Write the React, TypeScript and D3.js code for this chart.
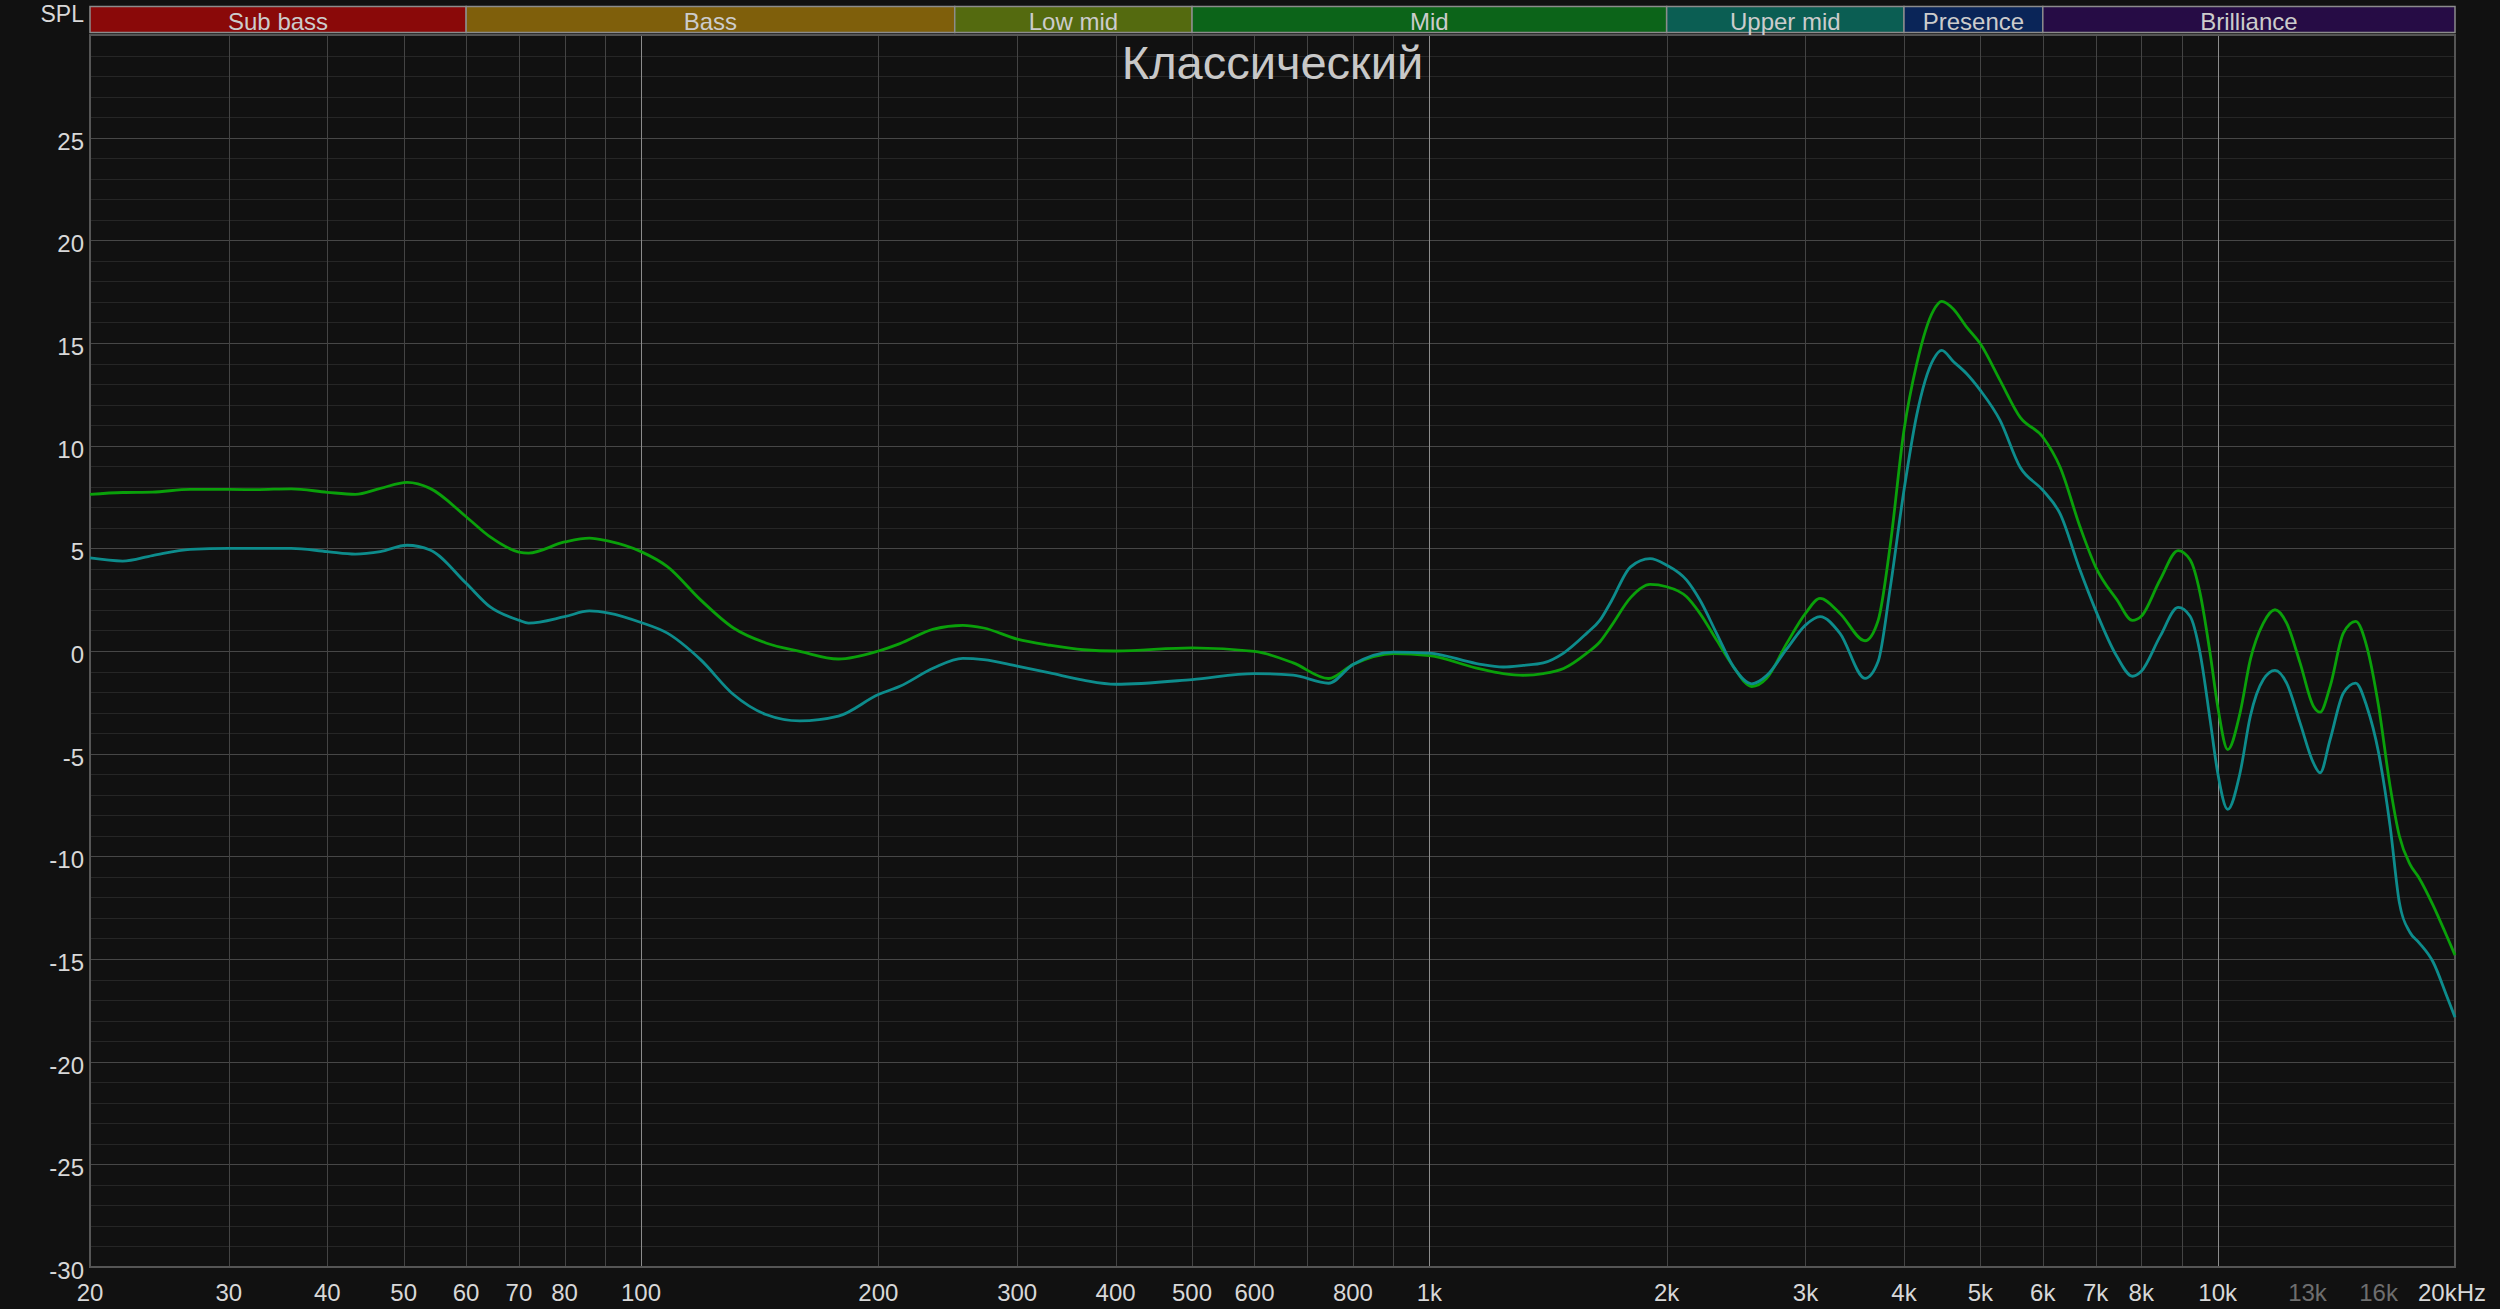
import * as d3 from 'd3';
import {useEffect, useRef} from 'react';

// frequency response, dB SPL
const freqs = [
    20, 22, 24, 26.8, 30, 32.5, 36, 40, 43.4, 46.7, 50.5, 54, 60, 64.3, 70, 72, 80, 86, 91,
    100, 108, 119, 131, 144, 159, 178, 200, 213, 235, 256, 272, 300, 330, 364, 400, 500, 600, 672, 745, 800, 900,
    1000, 1148, 1241, 1316, 1395, 1480, 1584, 1646, 1700, 1800, 1905, 2000, 2120, 2204, 2314, 2430, 2564, 2678,
    2840, 3000, 3130, 3318, 3570, 3710, 3840, 4000, 4152, 4359, 4466, 4620, 4804, 5000, 5296, 5614, 6000, 6310,
    6689, 7000, 7448, 7796, 8000, 8452, 8908, 9226, 9498, 9780, 10000, 10298, 10676, 11000, 11426, 11822, 12232,
    12720, 13226, 13488, 13888, 14438, 14964, 15454, 16000, 16546, 17000, 17538, 18000, 18774, 19518, 20000,
];

const greenDb = [
    7.63, 7.72, 7.74, 7.87, 7.87, 7.86, 7.9, 7.73, 7.63, 7.92, 8.21, 7.92, 6.54, 5.57, 4.82, 4.77, 5.31, 5.5, 5.35,
    4.84, 4.11, 2.49, 1.12, 0.39, -0.02, -0.39, 0, 0.36, 1.07, 1.25, 1.12, 0.58, 0.28, 0.06, 0, 0.15, -0.02, -0.58, -1.34, -0.66, -0.13,
    -0.23, -0.83, -1.1, -1.18, -1.1, -0.85, -0.1, 0.45, 1.2, 2.6, 3.24, 3.13, 2.64, 1.83, 0.53, -0.76, -1.73, -1.33,
    0.37, 1.83, 2.56, 1.83, 0.5, 1.5, 5.07, 10.75, 13.99, 16.58, 17.03, 16.66, 15.77, 14.96, 13.18, 11.39, 10.42, 8.96,
    6.05, 4.1, 2.5, 1.49, 1.69, 3.47, 4.89, 4.44, 2.82, -0.1, -2.69, -4.8, -3.01, -0.42, 1.36, 2.01, 1.36,
    -0.58, -2.69, -2.98, -1.72, 0.88, 1.44, 0.23, -2.69, -6.58, -9.01, -10.39, -11.04, -12.41, -13.87, -14.81,
];

const tealDb = [
    4.53, 4.38, 4.65, 4.95, 5.0, 5.0, 5.0, 4.84, 4.72, 4.84, 5.15, 4.92, 3.3, 2.16, 1.5, 1.36, 1.67, 1.95, 1.85,
    1.39, 0.87, -0.42, -2.12, -3.09, -3.4, -3.17, -2.12, -1.72, -0.83, -0.36, -0.42, -0.74, -1.07, -1.42, -1.62, -1.39, -1.1, -1.18, -1.57, -0.66, -0.05,
    -0.1, -0.61, -0.78, -0.7, -0.58, -0.1, 0.87, 1.5, 2.4, 4.1, 4.5, 4.18, 3.45, 2.48, 0.86, -0.76, -1.6, -1.2,
    0.1, 1.26, 1.67, 0.86, -1.33, -0.5, 3.0, 7.83, 11.5, 14.2, 14.64, 14.1, 13.5, 12.69, 11.23, 8.96, 7.83, 6.69,
    3.94, 1.99, -0.26, -1.23, -0.99, 0.71, 2.12, 1.69, -0.1, -3.34, -5.93, -7.71, -5.93, -3.18, -1.39, -0.94, -1.56,
    -3.5, -5.45, -5.93, -4.31, -2.04, -1.56, -2.69, -4.96, -8.53, -12.25, -13.71, -14.2, -15.17, -16.79, -17.84,
];

const bandNames = ['Sub bass', 'Bass', 'Low mid', 'Mid', 'Upper mid', 'Presence', 'Brilliance'];
const bandEdges = [20, 60, 250, 500, 2000, 4000, 6000, 20000];
const bandColors = ['#8a0909', '#7f5f0b', '#546a0f', '#0c6419', '#0b5e53', '#0a2558', '#260c45'];

const xTickValues = [20, 30, 40, 50, 60, 70, 80, 100, 200, 300, 400, 500, 600, 800, 1000, 2000, 3000, 4000, 5000, 6000, 7000, 8000, 10000, 13000, 16000, 20000];
const xTickLabels = ['20', '30', '40', '50', '60', '70', '80', '100', '200', '300', '400', '500', '600', '800', '1k', '2k', '3k', '4k', '5k', '6k', '7k', '8k', '10k', '13k', '16k', '20kHz'];
const dimTicks = [13000, 16000];
const yTickValues = [-30, -25, -20, -15, -10, -5, 0, 5, 10, 15, 20, 25];

const title = 'Классический';
const yLabel = 'SPL';

const FONT = "'Liberation Sans', Arial, sans-serif";

export default function App() {
    const ref = useRef(null);
    const width = 2500;
    const height = 1309;

    const margins = {top: 35, right: 45, bottom: 42, left: 90};
    const innerRight = width - margins.right;
    const innerBottom = height - margins.bottom;

    useEffect(() => {
        document.body.style.margin = '0';
        document.body.style.background = '#111111';

        const svg = d3.select(ref.current);
        svg.selectAll('*').remove();

        svg.append('rect').attr('width', width).attr('height', height).attr('fill', '#111111');

        const xScale = d3.scaleLog().domain([20, 20000]).range([margins.left, innerRight]);
        const yScale = d3.scaleLinear().domain([-30, 30]).range([innerBottom, margins.top]);

        // horizontal grid, 1 dB minor / 5 dB major
        const grid = svg.append('g').attr('shape-rendering', 'crispEdges');
        const dbLines = d3.range(-29, 30);
        grid.selectAll('.hgrid')
            .data(dbLines)
            .join('line')
            .attr('x1', margins.left)
            .attr('x2', innerRight)
            .attr('y1', (d) => Math.round(yScale(d)) + 0.5)
            .attr('y2', (d) => Math.round(yScale(d)) + 0.5)
            .attr('stroke', (d) => (d % 5 === 0 ? '#474747' : '#262626'))
            .attr('stroke-width', (d) => (d % 5 === 0 ? 1.5 : 1));

        // vertical grid
        const fLines = xScale.ticks().filter((f) => f > 20 && f < 20000);
        grid.selectAll('.vgrid')
            .data(fLines)
            .join('line')
            .attr('x1', (d) => Math.round(xScale(d)) + 0.5)
            .attr('x2', (d) => Math.round(xScale(d)) + 0.5)
            .attr('y1', margins.top)
            .attr('y2', innerBottom)
            .attr('stroke', (d) => {
                if (d === 100 || d === 1000 || d === 10000) return '#8c8c8c';
                if (d > 10000) return '#303030';
                return '#444444';
            })
            .attr('stroke-width', 1.2);

        // plot frame
        svg.append('rect')
            .attr('x', margins.left)
            .attr('y', margins.top)
            .attr('width', innerRight - margins.left)
            .attr('height', innerBottom - margins.top)
            .attr('fill', 'none')
            .attr('stroke', '#555555')
            .attr('stroke-width', 2);

        // band header
        const bands = bandNames.map((name, i) => ({name, f0: bandEdges[i], f1: bandEdges[i + 1], color: bandColors[i]}));
        const bandG = svg.append('g');
        bandG.selectAll('rect')
            .data(bands)
            .join('rect')
            .attr('x', (d) => xScale(d.f0))
            .attr('y', 6.5)
            .attr('width', (d) => xScale(d.f1) - xScale(d.f0))
            .attr('height', 26)
            .attr('fill', (d) => d.color)
            .attr('stroke', '#8c8c8c')
            .attr('stroke-width', 1.5);
        bandG.selectAll('text')
            .data(bands)
            .join('text')
            .attr('x', (d) => (xScale(d.f0) + xScale(d.f1)) / 2)
            .attr('y', 29.5)
            .attr('text-anchor', 'middle')
            .attr('font-family', FONT)
            .attr('font-size', 24)
            .attr('fill', '#cccccc')
            .text((d) => d.name);

        // axes labels
        svg.append('text')
            .attr('x', 84)
            .attr('y', 22)
            .attr('text-anchor', 'end')
            .attr('font-family', FONT)
            .attr('font-size', 23)
            .attr('fill', '#d8d8d8')
            .text(yLabel);

        svg.append('g')
            .selectAll('text')
            .data(yTickValues)
            .join('text')
            .attr('x', 84)
            .attr('y', (d) => yScale(d) + 12)
            .attr('text-anchor', 'end')
            .attr('font-family', FONT)
            .attr('font-size', 24)
            .attr('fill', '#d8d8d8')
            .text((d) => `${d}`);

        svg.append('g')
            .selectAll('text')
            .data(xTickValues)
            .join('text')
            .attr('x', (d) => (d === 20000 ? xScale(d) - 3 : xScale(d)))
            .attr('y', 1301)
            .attr('text-anchor', 'middle')
            .attr('font-family', FONT)
            .attr('font-size', 24)
            .attr('fill', (d) => (dimTicks.includes(d) ? '#6e6e6e' : '#d8d8d8'))
            .text((_, i) => xTickLabels[i]);

        // title
        svg.append('text')
            .attr('x', (margins.left + innerRight) / 2)
            .attr('y', 79)
            .attr('text-anchor', 'middle')
            .attr('font-family', FONT)
            .attr('font-size', 47)
            .attr('fill', '#c8c8c8')
            .text(title);

        // response curves
        const line = d3
            .line<number>()
            .x((_, i) => xScale(freqs[i]))
            .y((d) => yScale(d))
            .curve(d3.curveMonotoneX);

        svg.selectAll('.curve')
            .data([
                {values: greenDb, color: '#0aa00a'},
                {values: tealDb, color: '#0d8c8c'},
            ])
            .join('path')
            .attr('d', (d) => line(d.values))
            .attr('fill', 'none')
            .attr('stroke', (d) => d.color)
            .attr('stroke-width', 2.8)
            .attr('stroke-linejoin', 'round');
    }, []);

    return <svg ref={ref} width={width} height={height} style={{position: 'absolute', left: 0, top: 0, display: 'block'}}></svg>;
}
